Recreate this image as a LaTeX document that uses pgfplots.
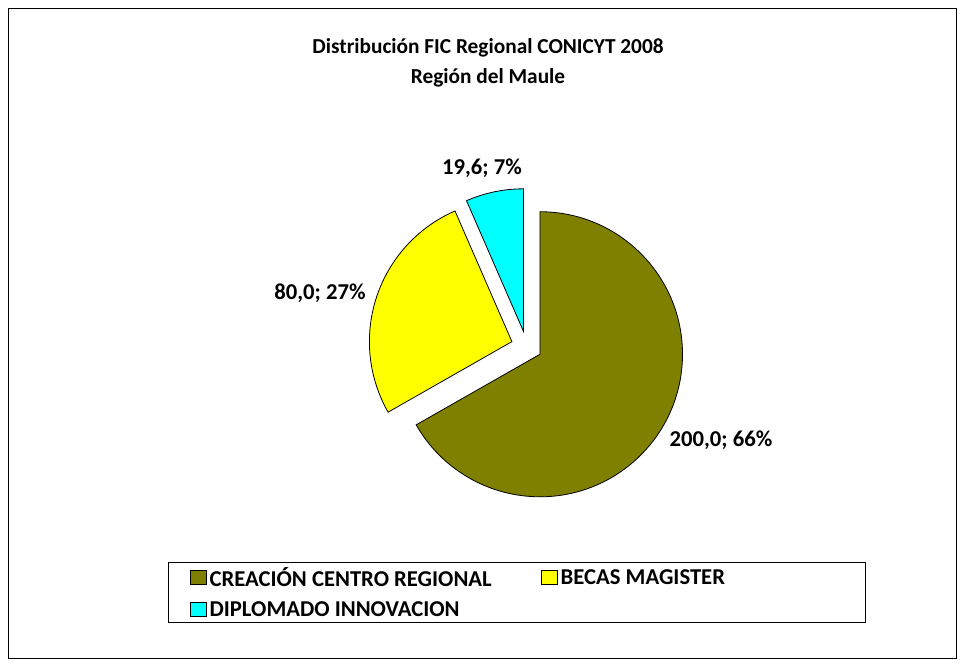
\documentclass[border=0pt]{standalone}
\usepackage{pgfplots}
\pgfplotsset{compat=1.18}
\usepackage{pgfplotstable}
\usepackage{fontspec}
\setmainfont{Carlito}
\usetikzlibrary{calc}

\definecolor{sliceolive}{RGB}{128,128,0}
\definecolor{sliceyellow}{RGB}{255,255,0}
\definecolor{slicecyan}{RGB}{0,255,255}

% values of the three slices
\pgfplotstableread{
value
200.0
80.0
19.6
}\piedata

\begin{document}
\begin{tikzpicture}[font=\fontsize{17}{20}\selectfont\bfseries]
  % angles from the data (start at 12 o'clock, clockwise)
  \pgfplotstablegetelem{0}{value}\of\piedata \pgfmathsetmacro\va{\pgfplotsretval}
  \pgfplotstablegetelem{1}{value}\of\piedata \pgfmathsetmacro\vb{\pgfplotsretval}
  \pgfplotstablegetelem{2}{value}\of\piedata \pgfmathsetmacro\vc{\pgfplotsretval}
  \pgfmathsetmacro\tot{\va+\vb+\vc}
  \pgfmathsetmacro\aA{90}
  \pgfmathsetmacro\aB{\aA-360*(\va/\tot)}
  \pgfmathsetmacro\aC{\aB-360*(\vb/\tot)}
  \pgfmathsetmacro\aD{\aC-360*(\vc/\tot)}
  \pgfmathsetmacro\mA{(\aA+\aB)/2}
  \pgfmathsetmacro\mB{(\aB+\aC)/2}
  \pgfmathsetmacro\mC{(\aC+\aD)/2}
  \def\R{106.9pt}
  \def\off{11.6pt}
  \begin{axis}[
    scale only axis, width=723pt, height=500.25pt,
    xmin=0, xmax=964, ymin=0, ymax=667,
    hide axis, clip=false,
    legend columns=2,
    legend cell align=left,
    legend image code/.code={\draw[#1] (0pt,-5.25pt) rectangle (12pt,5.25pt);},
    legend style={at={(axis cs:168,105)}, anchor=north west,
      draw=black, line width=0.7pt, inner xsep=16.25pt, inner ysep=1.5pt,
      row sep=5.75pt,
      font=\fontsize{17}{20}\selectfont\bfseries,
      /tikz/every even column/.append style={column sep=0pt}},
  ]
    \path (axis cs:0,0) rectangle (axis cs:964,667);
    \draw[line width=0.7pt] (axis cs:8,9) rectangle (axis cs:956,659);

    \addlegendimage{fill=sliceolive, draw=black, line width=0.6pt}
    \addlegendentry{\makebox[246.75pt][l]{CREACIÓN CENTRO REGIONAL}}
    \addlegendimage{fill=sliceyellow, draw=black, line width=0.6pt}
    \addlegendentry{\makebox[210pt][l]{BECAS MAGISTER}}
    \addlegendimage{fill=slicecyan, draw=black, line width=0.6pt}
    \addlegendentry{DIPLOMADO INNOVACION}

    \draw[fill=sliceolive, line width=0.6pt]
      (axis cs:526.6,320.5) ++(\mA:\off) ++(\aA:\R)
      arc[start angle=\aA, end angle=\aB, radius=\R]
      -- ([shift={(\mA:\off)}]axis cs:526.6,320.5) -- cycle;
    \draw[fill=sliceyellow, line width=0.6pt]
      (axis cs:526.6,320.5) ++(\mB:\off) ++(\aB:\R)
      arc[start angle=\aB, end angle=\aC, radius=\R]
      -- ([shift={(\mB:\off)}]axis cs:526.6,320.5) -- cycle;
    \draw[fill=slicecyan, line width=0.6pt]
      (axis cs:526.6,320.5) ++(\mC:\off) ++(\aC:\R)
      arc[start angle=\aC, end angle=\aD, radius=\R]
      -- ([shift={(\mC:\off)}]axis cs:526.6,320.5) -- cycle;

    \node at (axis cs:482,499) {19,6; 7\%};
    \node at (axis cs:320,374) {80,0; 27\%};
    \node at (axis cs:721,227) {200,0; 66\%};

    \node[align=center, font=\fontsize{16}{22.5}\selectfont\bfseries]
      at (axis cs:488,604) {Distribución FIC Regional CONICYT 2008\\Región del Maule};
  \end{axis}
\end{tikzpicture}
\end{document}
